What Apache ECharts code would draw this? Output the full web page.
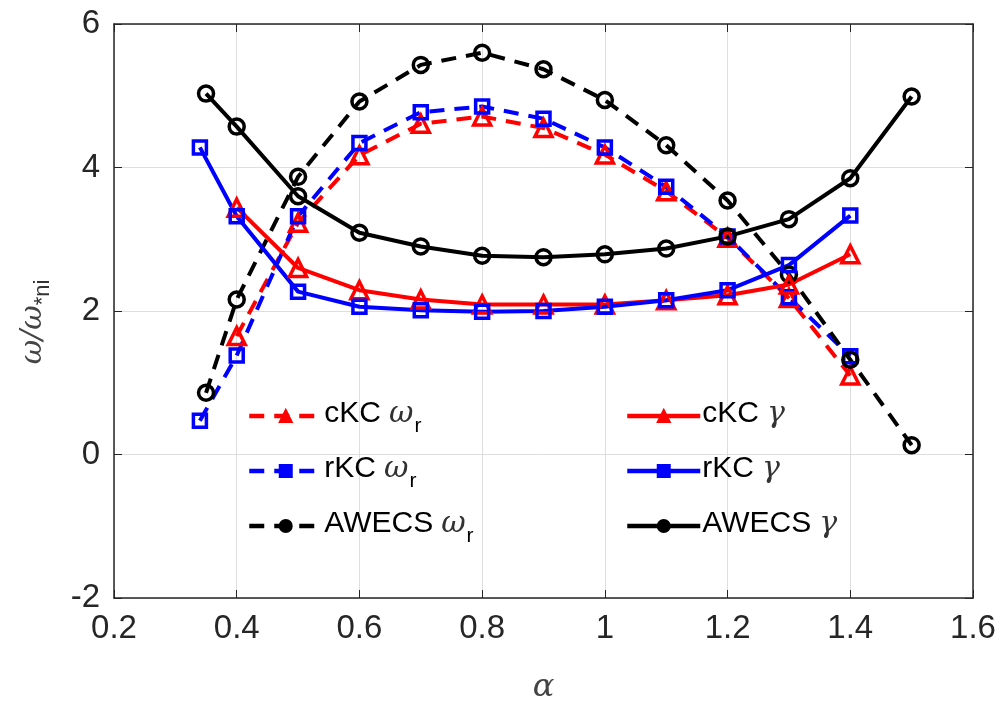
<!DOCTYPE html>
<html>
<head>
<meta charset="utf-8">
<script src="https://cdn.jsdelivr.net/npm/echarts@6/dist/echarts.min.js"></script>
<style>
html,body{margin:0;padding:0;background:#fff;}
#c{width:1002px;height:705px;}
</style>
</head>
<body>
<div id="c"></div>
<script>
// ---- data ----
var xCKC = [0.4, 0.5, 0.6, 0.7, 0.8, 0.9, 1.0, 1.1, 1.2, 1.3, 1.4];
var xRKC = [0.34, 0.4, 0.5, 0.6, 0.7, 0.8, 0.9, 1.0, 1.1, 1.2, 1.3, 1.4];
var xAW  = [0.35, 0.4, 0.5, 0.6, 0.7, 0.8, 0.9, 1.0, 1.1, 1.2, 1.3, 1.4, 1.5];

var cKC_wr = [1.65, 3.23, 4.17, 4.61, 4.71, 4.55, 4.18, 3.67, 3.02, 2.18, 1.10];
var rKC_wr = [0.47, 1.38, 3.32, 4.34, 4.77, 4.85, 4.68, 4.28, 3.73, 3.04, 2.19, 1.37];
var AW_wr  = [0.86, 2.16, 3.87, 4.92, 5.43, 5.60, 5.37, 4.94, 4.31, 3.54, 2.51, 1.32, 0.13];
var cKC_g  = [3.44, 2.60, 2.29, 2.16, 2.09, 2.09, 2.09, 2.15, 2.22, 2.37, 2.79];
var rKC_g  = [4.28, 3.32, 2.27, 2.06, 2.01, 1.99, 2.00, 2.06, 2.15, 2.29, 2.64, 3.33];
var AW_g   = [5.03, 4.57, 3.60, 3.09, 2.90, 2.77, 2.75, 2.79, 2.87, 3.04, 3.28, 3.85, 4.99];

var xTicks = [0.2, 0.4, 0.6, 0.8, 1.0, 1.2, 1.4, 1.6];
var yTicks = [-2, 0, 2, 4, 6];

var names = ['cKC ωr', 'rKC ωr', 'AWECS ωr', 'cKC γ', 'rKC γ', 'AWECS γ'];

function pairs(xs, ys) { return xs.map(function (x, i) { return [x, ys[i]]; }); }

var FONT = 'Liberation Sans, Arial, Helvetica, sans-serif';
var AX = '#262626';
var DASH = [15, 10];

function mk(name, xs, ys, color, symbol, size, dashed) {
  return {
    name: name, type: 'line', data: pairs(xs, ys),
    symbol: symbol, symbolSize: size, showAllSymbol: true,
    color: color,
    lineStyle: { color: color, width: 4, type: dashed ? DASH : 'solid' },
    itemStyle: { color: 'rgba(255,255,255,0)', borderColor: color, borderWidth: 3.5 },
    emphasis: { disabled: true },
    animation: false
  };
}

var colors = ['#ff0000', '#0000ff', '#000000', '#ff0000', '#0000ff', '#000000'];
var series = [
  mk(names[0], xCKC, cKC_wr, colors[0], 'triangle', 17, true),
  mk(names[1], xRKC, rKC_wr, colors[1], 'rect', 13, true),
  mk(names[2], xAW,  AW_wr,  colors[2], 'circle', 15, true),
  mk(names[3], xCKC, cKC_g,  colors[3], 'triangle', 17, false),
  mk(names[4], xRKC, rKC_g,  colors[4], 'rect', 13, false),
  mk(names[5], xAW,  AW_g,   colors[5], 'circle', 15, false)
];

var rich = {
  a: { fontSize: 30, fontFamily: FONT, color: '#000', lineHeight: 34, verticalAlign: 'top' },
  w: { fontSize: 30, fontFamily: 'DejaVu Serif, serif', fontStyle: 'italic', color: '#333', lineHeight: 34, verticalAlign: 'top', padding: [0, 0, 0, 8] },
  s: { fontSize: 21, fontFamily: FONT, color: '#000', lineHeight: 24, verticalAlign: 'top', padding: [17, 0, 0, 1] }
};

function legendFmt(n) {
  var parts = n.split(' ');
  if (parts[1] === 'ωr') return '{a|' + parts[0] + '}{w|ω}{s|r}';
  return '{a|' + parts[0] + '}{w|γ}';
}

var rowsY = [399, 454, 509];
var legends = [];
for (var i = 0; i < 6; i++) {
  legends.push({
    data: [names[i]],
    left: i < 3 ? 247 : 625,
    top: rowsY[i % 3],
    itemWidth: 73, itemHeight: 15, itemGap: 0,
    padding: 0,
    selectedMode: false,
    formatter: legendFmt,
    itemStyle: { color: colors[i], borderColor: colors[i], borderWidth: 2 },
    lineStyle: { width: 4.5 },
    textStyle: { rich: rich, padding: [0, 0, 0, -3] }
  });
}

var option = {
  backgroundColor: '#fff',
  animation: false,
  grid: { left: 114, right: 29, top: 24, bottom: 107, containLabel: false, outerBoundsMode: 'none' },
  legend: legends,
  xAxis: [{
    type: 'value', min: 0.2, max: 1.6, interval: 0.2,
    name: 'α', nameLocation: 'middle', nameGap: 74,
    nameTextStyle: { fontSize: 32, fontFamily: 'DejaVu Serif, serif', fontStyle: 'italic', color: '#444' },
    axisLine: { show: true, onZero: false, lineStyle: { color: AX, width: 1.5 } },
    axisTick: { show: true, inside: true, length: 8, lineStyle: { color: AX, width: 1 } },
    axisLabel: { fontSize: 33, fontFamily: FONT, color: AX, margin: 14,
      formatter: function (v) { var r = Math.round(v * 10) / 10; return xTicks.indexOf(r) >= 0 ? String(r) : ''; } },
    splitLine: { show: true, lineStyle: { color: '#dedede', width: 1 } }
  }, {
    type: 'value', position: 'top', min: 0.2, max: 1.6, interval: 0.2,
    axisLine: { show: true, onZero: false, lineStyle: { color: AX, width: 1.5 } },
    axisTick: { show: true, inside: true, length: 8, lineStyle: { color: AX, width: 1 } },
    axisLabel: { show: false }, splitLine: { show: false }
  }],
  yAxis: [{
    type: 'value', min: -2, max: 6, interval: 2,
    name: '{w|ω/ω}{s|*ni}', nameLocation: 'middle', nameGap: 62,
    nameTextStyle: { padding: [0, 22, 0, 0], rich: {
      w: { fontSize: 30, fontFamily: 'DejaVu Serif, serif', fontStyle: 'italic', color: '#444', lineHeight: 34, verticalAlign: 'top' },
      s: { fontSize: 22, fontFamily: FONT, color: '#333', lineHeight: 24, verticalAlign: 'top', padding: [14, 0, 0, 0] }
    } },
    axisLine: { show: true, onZero: false, lineStyle: { color: AX, width: 1.5 } },
    axisTick: { show: true, inside: true, length: 8, lineStyle: { color: AX, width: 1 } },
    axisLabel: { fontSize: 33, fontFamily: FONT, color: AX, margin: 14,
      formatter: function (v) { return yTicks.indexOf(v) >= 0 ? String(v) : ''; } },
    splitLine: { show: true, lineStyle: { color: '#dedede', width: 1 } }
  }, {
    type: 'value', position: 'right', min: -2, max: 6, interval: 2,
    axisLine: { show: true, onZero: false, lineStyle: { color: AX, width: 1.5 } },
    axisTick: { show: true, inside: true, length: 8, lineStyle: { color: AX, width: 1 } },
    axisLabel: { show: false }, splitLine: { show: false }
  }],
  series: series
};

var chart = echarts.init(document.getElementById('c'), null, { renderer: 'canvas' });
chart.setOption(option);
</script>
</body>
</html>
